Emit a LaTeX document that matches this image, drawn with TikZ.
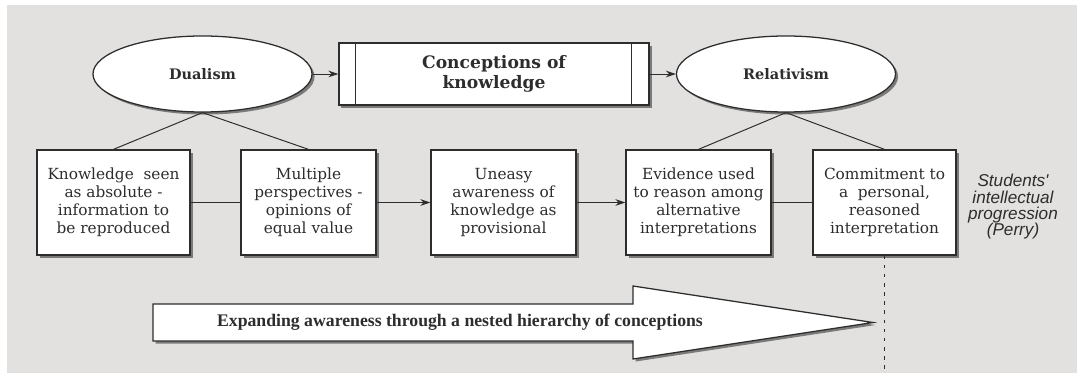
\documentclass[tikz,border=0pt]{standalone}
\usepackage{fontspec}
\setmainfont{DejaVu Serif}
\newfontfamily\arrowfont{Liberation Serif}
\newfontfamily\perryfont{Liberation Sans}
\usetikzlibrary{arrows.meta,positioning,shapes.geometric,shadows}
\definecolor{paper}{RGB}{226,225,223}
\definecolor{ink}{RGB}{45,45,45}
\tikzset{
  >={Stealth[length=7pt,width=4.6pt]},
  shade me/.style={drop shadow={shadow xshift=1.8pt,shadow yshift=-1.8pt,opacity=0.55,fill=black!85}},
  stage/.style={draw=ink,fill=white,line width=0.9pt,minimum height=2.625cm,inner sep=0pt,
    align=center,text=ink,font=\fontsize{10.9}{12.7}\selectfont,shade me},
  view/.style={ellipse,draw=ink,fill=white,line width=0.9pt,minimum width=5.475cm,
    minimum height=1.9cm,inner sep=0pt,text=ink,font=\bfseries\fontsize{10.3}{12}\selectfont,shade me},
  title box/.style={draw=ink,fill=white,line width=0.9pt,minimum width=7.75cm,minimum height=1.55cm,
    inner sep=0pt,align=center,text=ink,font=\bfseries\fontsize{12.2}{14}\selectfont,shade me},
  flow/.style={->,draw=ink,line width=0.7pt},
  link/.style={draw=ink,line width=0.7pt},
  big arrow/.style={draw=ink,fill=white,line width=0.9pt,line join=miter,shade me},
  perry line/.style={draw=ink,line width=0.7pt,dash pattern=on 2.5pt off 4pt},
  tag/.style={text=ink,align=center,font=\perryfont\itshape\fontsize{12.2}{11.6}\selectfont},
}
\begin{document}
\begin{tikzpicture}[x=0.025cm,y=-0.025cm]
  \useasboundingbox (0,0) rectangle (1077,373);
  \fill[paper] (7,5) rectangle (1077,373);
  % top row
  \node[view] (dual) at (202.5,74) {Dualism};
  \node[title box] (concept) at (494,74) {Conceptions of\\knowledge};
  \node[view] (rel) at (786,74) {Relativism};
  \draw[link] ([xshift=0.43cm]concept.north west) -- ([xshift=0.43cm]concept.south west);
  \draw[link] ([xshift=-0.45cm]concept.north east) -- ([xshift=-0.45cm]concept.south east);
  \draw[flow] (dual) -- (concept);
  \draw[flow] (concept) -- (rel);
  % stages of progression
  \foreach \name/\cx/\boxw/\txt in {
      k1/113.5/3.825/{Knowledge~~seen\\as absolute -\\information to\\be reproduced},
      k2/308.5/3.375/{Multiple\\perspectives -\\opinions of\\equal value},
      k3/503.5/3.625/{Uneasy\\awareness of\\knowledge as\\provisional},
      k4/698.5/3.625/{Evidence used\\to reason among\\alternative\\interpretations},
      k5/884.5/3.575/{Commitment to\\a~~personal,\\reasoned\\interpretation}}{
    \node[stage,minimum width=\boxw cm] (\name) at (\cx,202.5) {\txt};
  }
  \draw[link] (k1) -- (k2);
  \draw[flow] (k2) -- (k3);
  \draw[flow] (k3) -- (k4);
  \draw[link] (k4) -- (k5);
  \foreach \a/\b in {dual/k1,dual/k2,rel/k4,rel/k5}
    \draw[link] (\a.south) -- (\b.north);
  \node[tag] (perry) at (1013,207) {Students'\\intellectual\\progression\\(Perry)};
  % expanding awareness
  \coordinate (floor) at (885,373);
  \draw[perry line] (k5.south) -- (k5.south |- floor);
  \draw[big arrow] (153,304) -- (633,304) -- (633,286) -- (873,322.5)
    -- (633,359) -- (633,341) -- (153,341) -- cycle;
  \node[text=ink,font=\arrowfont\bfseries\fontsize{12.6}{14}\selectfont] (growth) at (460,322.5)
    {Expanding awareness through a nested hierarchy of conceptions};
\end{tikzpicture}
\end{document}
